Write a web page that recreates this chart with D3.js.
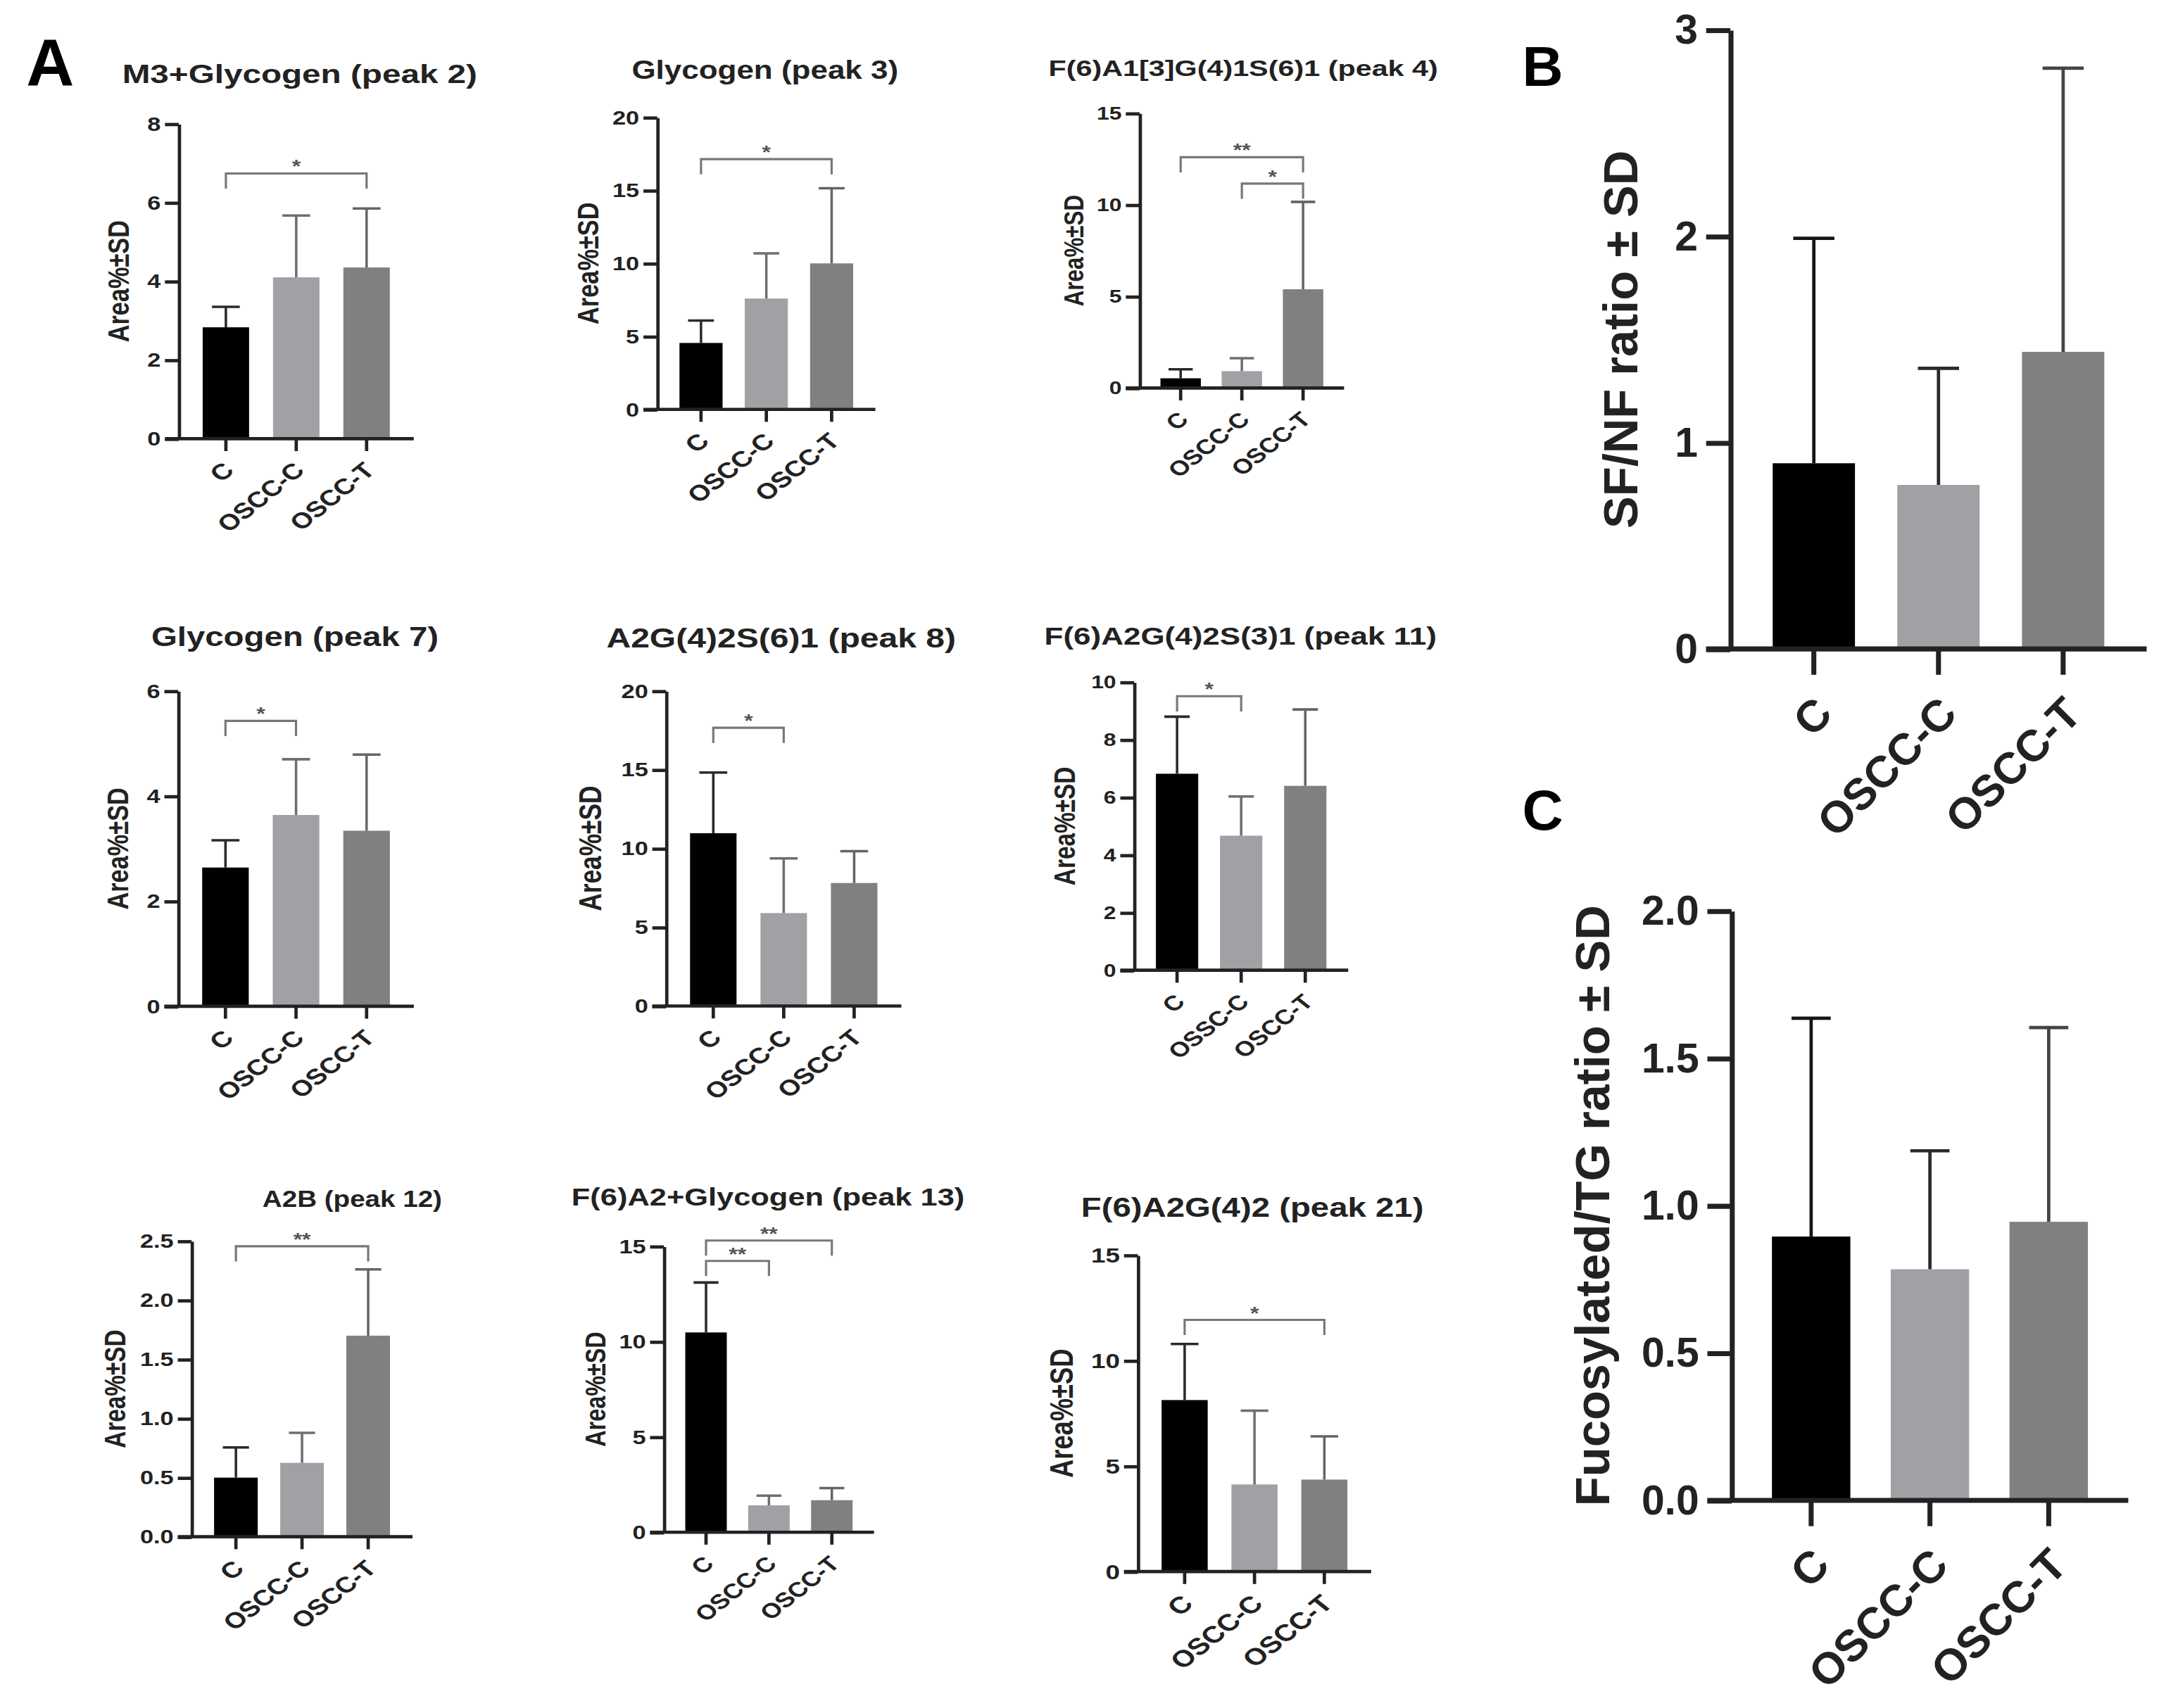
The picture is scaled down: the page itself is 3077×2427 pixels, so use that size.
<!DOCTYPE html>
<html>
<head>
<meta charset="utf-8">
<script src="https://cdn.jsdelivr.net/npm/d3@7"></script>
<style>
  html, body { margin: 0; padding: 0; background: #ffffff; }
  svg { display: block; }
  text { font-family: "Liberation Sans", Arial, sans-serif; font-weight: bold; }
</style>
</head>
<body>
<svg id="chart"></svg>
<script>
// ---------------- DATA ----------------
const categories = ["C", "OSCC-C", "OSCC-T"];
const categoriesP6 = ["C", "OSSC-C", "OSCC-T"];

const p1Title = "M3+Glycogen (peak 2)";
const p1Mean = [2.83, 4.10, 4.35];
const p1SD   = [0.52, 1.57, 1.50];
const p1Ticks = [0, 2, 4, 6, 8];
const p1Sig = [{ a: 0, b: 2, y: 6.74, label: "*" }];

const p2Title = "Glycogen (peak 3)";
const p2Mean = [4.55, 7.59, 10.0];
const p2SD   = [1.53, 3.10, 5.15];
const p2Ticks = [0, 5, 10, 15, 20];
const p2Sig = [{ a: 0, b: 2, y: 17.14, label: "*" }];

const p3Title = "F(6)A1[3]G(4)1S(6)1 (peak 4)";
const p3Mean = [0.53, 0.92, 5.39];
const p3SD   = [0.49, 0.71, 4.77];
const p3Ticks = [0, 5, 10, 15];
const p3Sig = [{ a: 0, b: 2, y: 12.6, label: "**" }, { a: 1, b: 2, y: 11.16, label: "*" }];

const p4Title = "Glycogen (peak 7)";
const p4Mean = [2.64, 3.64, 3.34];
const p4SD   = [0.52, 1.06, 1.45];
const p4Ticks = [0, 2, 4, 6];
const p4Sig = [{ a: 0, b: 1, y: 5.43, label: "*" }];

const p5Title = "A2G(4)2S(6)1 (peak 8)";
const p5Mean = [10.97, 5.90, 7.81];
const p5SD   = [3.85, 3.47, 2.02];
const p5Ticks = [0, 5, 10, 15, 20];
const p5Sig = [{ a: 0, b: 1, y: 17.66, label: "*" }];

const p6Title = "F(6)A2G(4)2S(3)1 (peak 11)";
const p6Mean = [6.82, 4.67, 6.40];
const p6SD   = [1.98, 1.36, 2.65];
const p6Ticks = [0, 2, 4, 6, 8, 10];
const p6Sig = [{ a: 0, b: 1, y: 9.51, label: "*" }];

const p7Title = "A2B (peak 12)";
const p7Mean = [0.50, 0.625, 1.70];
const p7SD   = [0.255, 0.254, 0.56];
const p7Ticks = [0, 0.5, 1.0, 1.5, 2.0, 2.5];
const p7Sig = [{ a: 0, b: 2, y: 2.456, label: "**" }];

const p8Title = "F(6)A2+Glycogen (peak 13)";
const p8Mean = [10.48, 1.41, 1.68];
const p8SD   = [2.62, 0.51, 0.64];
const p8Ticks = [0, 5, 10, 15];
const p8Sig = [{ a: 0, b: 1, y: 14.23, label: "**" }, { a: 0, b: 2, y: 15.3, label: "**" }];

const p9Title = "F(6)A2G(4)2 (peak 21)";
const p9Mean = [8.13, 4.13, 4.36];
const p9SD   = [2.66, 3.50, 2.05];
const p9Ticks = [0, 5, 10, 15];
const p9Sig = [{ a: 0, b: 2, y: 11.93, label: "*" }];

const bMean = [0.90, 0.795, 1.44];
const bSD   = [1.09, 0.565, 1.375];
const bTicks = [0, 1, 2, 3];
const bYLabel = "SF/NF ratio ± SD";

const cMean = [0.895, 0.784, 0.945];
const cSD   = [0.741, 0.402, 0.659];
const cTicks = [0, 0.5, 1.0, 1.5, 2.0];
const cYLabel = "Fucosylated/TG ratio ± SD";

const smallYLabel = "Area%±SD";
const panelLetters = ["A", "B", "C"];

// ---------------- STYLE / LAYOUT ----------------
const W = 1568, H = 1237;
const barColors = ["#000000", "#a1a1a5", "#808080"];
const errSmall = ["#2a2a2a", "#6e6e6e", "#656565"];
const errBig = ["#151515", "#2a2a2a", "#444444"];
const axisColor = "#222222";

const svg = d3.select("#chart")
  .attr("width", 3077).attr("height", 2427)
  .attr("viewBox", `0 0 ${W} ${H}`)
  .attr("preserveAspectRatio", "none");

svg.append("rect").attr("width", W).attr("height", H).attr("fill", "#fff");

const smallStyle = {
  tick: 10, xtick: 9, tickFont: 14, pad: 3, labFont: 16, rot: -45, lx: 2, ly: 11, sx: 1.25,
  axisW: 2.4, errW: 1.8, capFrac: 0.6, err: errSmall, fmt: d3.format("d"), ylFont: 17.5
};
const bigStyle = {
  tick: 17.5, xtick: 18.7, tickFont: 30, pad: 6, labFont: 32, rot: -45, lx: 7, ly: 22, sx: 1,
  axisW: 3.6, errW: 2.4, capFrac: 0.5, err: errBig, fmt: d3.format("d"), ylFont: 35
};

const panels = [
  { title: p1Title, cats: categories, mean: p1Mean, sd: p1SD, yMax: 8, ticks: p1Ticks, sig: p1Sig,
    L: { ax: 129.4, xe: 299.5, yt: 89.7, y0: 317.7, ylx: 85.8, tx: 217, ty: 60, tl: 257, tf: 18.5 } },
  { title: p2Title, cats: categories, mean: p2Mean, sd: p2SD, yMax: 20, ticks: p2Ticks, sig: p2Sig,
    L: { ax: 475.8, xe: 633.7, yt: 85, y0: 296.5, ylx: 425.6, tx: 553.8, ty: 57, tl: 193, tf: 18.5 } },
  { title: p3Title, cats: categories, mean: p3Mean, sd: p3SD, yMax: 15, ticks: p3Ticks, sig: p3Sig,
    L: { ax: 825, xe: 973, yt: 82, y0: 281, ylx: 777, tx: 900, ty: 55, tl: 282, tf: 16, tickFont: 13, labFont: 15, ylFont: 16 } },
  { title: p4Title, cats: categories, mean: p4Mean, sd: p4SD, yMax: 6, ticks: p4Ticks, sig: p4Sig,
    L: { ax: 129, xe: 299.6, yt: 500.4, y0: 728.8, ylx: 85, tx: 213.5, ty: 468, tl: 208, tf: 19.5 } },
  { title: p5Title, cats: categories, mean: p5Mean, sd: p5SD, yMax: 20, ticks: p5Ticks, sig: p5Sig,
    L: { ax: 482.2, xe: 652.5, yt: 500.4, y0: 728.6, ylx: 427.4, tx: 565.5, ty: 469, tl: 253, tf: 19.5, ylFont: 18 } },
  { title: p6Title, cats: categoriesP6, mean: p6Mean, sd: p6SD, yMax: 10, ticks: p6Ticks, sig: p6Sig,
    L: { ax: 821, xe: 976, yt: 494, y0: 702.7, ylx: 770.5, tx: 898, ty: 467, tl: 284, tf: 18, tickFont: 13, labFont: 15, ylFont: 17 } },
  { title: p7Title, cats: categories, mean: p7Mean, sd: p7SD, yMax: 2.5, ticks: p7Ticks, sig: p7Sig,
    L: { ax: 138.7, xe: 298.6, yt: 898.8, y0: 1113, ylx: 83.5, tx: 255, ty: 874, tl: 130, tf: 16.5, fmt: d3.format(".1f"), ylFont: 17 } },
  { title: p8Title, cats: categories, mean: p8Mean, sd: p8SD, yMax: 15, ticks: p8Ticks, sig: p8Sig,
    L: { ax: 480.6, xe: 632.7, yt: 902.6, y0: 1109.7, ylx: 431, tx: 556, ty: 873, tl: 284.6, tf: 18, ylFont: 16.5, labFont: 15 } },
  { title: p9Title, cats: categories, mean: p9Mean, sd: p9SD, yMax: 15, ticks: p9Ticks, sig: p9Sig,
    L: { ax: 823.7, xe: 992.6, yt: 909, y0: 1138.2, ylx: 768.6, tx: 906.6, ty: 881, tl: 248, tf: 20, tickFont: 15, labFont: 17, ylFont: 18.5 } }
];

const bigPanels = [
  { cats: categories, mean: bMean, sd: bSD, yMax: 3, ticks: bTicks, sig: [], ylabel: bYLabel,
    L: { ax: 1252.6, xe: 1554, yt: 21.7, y0: 470, ylx: 1173 } },
  { cats: categories, mean: cMean, sd: cSD, yMax: 2, ticks: cTicks, sig: [], ylabel: cYLabel,
    L: { ax: 1253.5, xe: 1540.7, yt: 659.7, y0: 1086.6, ylx: 1152.7, fmt: d3.format(".1f") } }
];

function drawPanel(cfg, base) {
  const L = Object.assign({}, base, cfg.L);
  const sx = L.sx;
  const g = svg.append("g");
  const x = d3.scaleBand().domain(cfg.cats).range([L.ax, L.xe]).paddingInner(0.34).paddingOuter(0.34);
  const y = d3.scaleLinear().domain([0, cfg.yMax]).range([L.y0, L.yt]);
  const bw = x.bandwidth();
  const cx = i => x(cfg.cats[i]) + bw / 2;

  // bars
  g.selectAll("rect.bar").data(cfg.mean).join("rect")
    .attr("class", "bar")
    .attr("x", (d, i) => x(cfg.cats[i]))
    .attr("y", d => y(d))
    .attr("width", bw)
    .attr("height", d => y(0) - y(d))
    .attr("fill", (d, i) => barColors[i]);

  // error bars (upper only)
  const cw = bw * L.capFrac;
  const eg = g.append("g");
  cfg.mean.forEach((m, i) => {
    const top = y(m + cfg.sd[i]);
    eg.append("line").attr("x1", cx(i)).attr("x2", cx(i)).attr("y1", y(m)).attr("y2", top)
      .attr("stroke", L.err[i]).attr("stroke-width", L.errW);
    eg.append("line").attr("x1", cx(i) - cw / 2).attr("x2", cx(i) + cw / 2).attr("y1", top).attr("y2", top)
      .attr("stroke", L.err[i]).attr("stroke-width", L.errW);
  });

  // y axis
  const ya = d3.axisLeft(y).tickValues(cfg.ticks).tickSize(L.tick).tickSizeOuter(0)
    .tickPadding(L.pad).tickFormat(L.fmt);
  const yg = g.append("g").attr("transform", `translate(${L.ax},0)`).call(ya);
  yg.select(".domain").attr("stroke", axisColor).attr("stroke-width", L.axisW);
  yg.selectAll(".tick line").attr("stroke", axisColor).attr("stroke-width", L.axisW);
  yg.selectAll(".tick text").attr("fill", "#222").attr("font-size", L.tickFont)
    .attr("x", -(L.tick + L.pad) / sx)
    .attr("transform", `scale(${sx},1)`)
    .style("font-family", '"Liberation Sans", Arial, sans-serif').style("font-weight", "bold");

  // x axis
  g.append("line").attr("x1", L.ax - L.tick).attr("x2", L.xe).attr("y1", L.y0).attr("y2", L.y0)
    .attr("stroke", axisColor).attr("stroke-width", L.axisW);
  const xa = d3.axisBottom(x).tickSize(L.xtick).tickSizeOuter(0).tickFormat("");
  const xg = g.append("g").attr("transform", `translate(0,${L.y0})`).call(xa);
  xg.select(".domain").remove();
  xg.selectAll(".tick line").attr("stroke", axisColor).attr("stroke-width", L.axisW);

  // category labels
  g.selectAll("text.cat").data(cfg.cats).join("text")
    .attr("class", "cat")
    .attr("transform", (d, i) => `translate(${cx(i) + L.lx},${L.y0 + L.xtick + L.ly}) scale(${sx},1) rotate(${L.rot})`)
    .attr("text-anchor", "end").attr("dy", "0.35em")
    .attr("font-size", L.labFont).attr("fill", "#222")
    .text(d => d);

  // y label
  const ymid = (L.y0 + L.yt) / 2;
  g.append("text")
    .attr("transform", `translate(${L.ylx},${ymid}) scale(${sx},1) rotate(-90)`)
    .attr("text-anchor", "middle").attr("dy", "0.35em")
    .attr("font-size", L.ylFont).attr("fill", "#222")
    .text(cfg.ylabel || smallYLabel);

  // title
  if (cfg.title) {
    g.append("text").attr("x", L.tx).attr("y", L.ty)
      .attr("text-anchor", "middle").attr("font-size", L.tf).attr("fill", "#222")
      .attr("textLength", L.tl).attr("lengthAdjust", "spacingAndGlyphs")
      .text(cfg.title);
  }

  // significance brackets
  const leg = 11;
  cfg.sig.forEach(s => {
    const ly = y(s.y), xa1 = cx(s.a), xb1 = cx(s.b);
    g.append("path")
      .attr("d", `M${xa1},${ly + leg}V${ly}H${xb1}V${ly + leg}`)
      .attr("fill", "none").attr("stroke", "#777").attr("stroke-width", 1.6);
    g.append("text")
      .attr("transform", `translate(${(xa1 + xb1) / 2},${ly - 0.5}) scale(${sx},1)`)
      .attr("text-anchor", "middle").attr("font-size", 13).attr("fill", "#555")
      .text(s.label);
  });
}

panels.forEach(p => drawPanel(p, smallStyle));
bigPanels.forEach(p => drawPanel(p, bigStyle));

// panel letters
svg.append("text").attr("x", 19).attr("y", 62).attr("font-size", 48).attr("fill", "#000").text(panelLetters[0]);
svg.append("text").attr("x", 1102).attr("y", 62).attr("font-size", 41).attr("fill", "#000").text(panelLetters[1]);
svg.append("text").attr("x", 1102).attr("y", 601).attr("font-size", 41).attr("fill", "#000").text(panelLetters[2]);
</script>
</body>
</html>
